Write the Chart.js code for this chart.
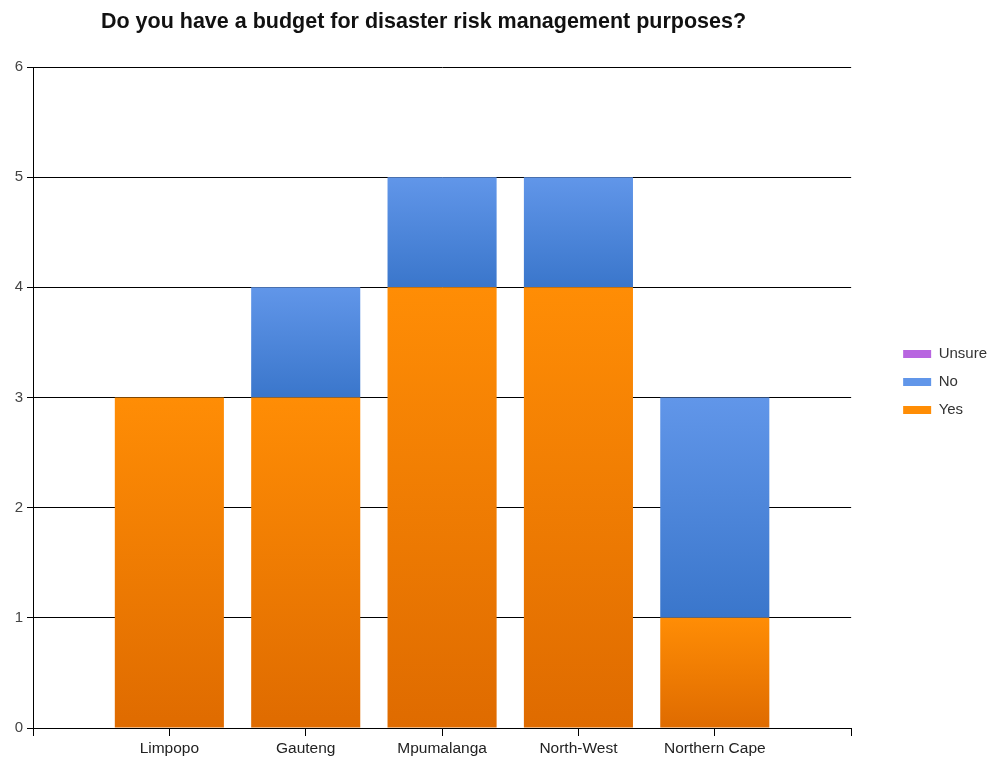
<!DOCTYPE html>
<html lang="en">
<head>
    <meta charset="UTF-8">
    <title>Disaster Risk Budget</title>
    <script src="https://cdn.jsdelivr.net/npm/chart.js"></script>
</head>
<style>
    body {
        margin: 0;
        background: #ffffff;
    }
    .chart-box {
        position: relative;
        width: 989px;
        height: 760px;
    }
</style>

<body>
    <div class="chart-box">
        <canvas id="budgetChart"></canvas>
    </div>
    <script>
        // Survey answers per province
        const provinces = ['Limpopo', 'Gauteng', 'Mpumalanga', 'North-West', 'Northern Cape'];
        const yesCounts = [3, 3, 4, 4, 1];
        const noCounts = [0, 1, 1, 1, 2];
        const unsureCounts = [0, 0, 0, 0, 0];
        const yTicks = [0, 1, 2, 3, 4, 5, 6];
        const chartTitle = 'Do you have a budget for disaster risk management purposes?';

        // empty slot on each side so the bars sit between the end ticks
        const labels = [''].concat(provinces, ['']);
        const pad = arr => [null].concat(arr, [null]);

        const series = [
            { label: 'Yes', data: yesCounts, top: '#ff8d05', bottom: '#df6b00' },
            { label: 'No', data: noCounts, top: '#6196e9', bottom: '#3a76cb' },
            { label: 'Unsure', data: unsureCounts, top: '#b865e0', bottom: '#8a3cc0' }
        ];

        const fontFamily = '"Liberation Sans", Arial, sans-serif';

        // each stacked segment gets its own top-to-bottom shade
        function segmentFill(s, idx) {
            return function (ctx) {
                const chart = ctx.chart;
                if (ctx.type !== 'data' || !chart.chartArea || !chart.scales.y) return s.top;
                const i = ctx.dataIndex - 1;
                if (i < 0 || i >= provinces.length) return s.top;
                let base = 0;
                for (let k = 0; k < idx; k++) base += series[k].data[i];
                const y = chart.scales.y;
                const y0 = y.getPixelForValue(base + s.data[i]);
                const y1 = y.getPixelForValue(base);
                if (!(y1 > y0)) return s.top;
                const g = chart.ctx.createLinearGradient(0, y0, 0, y1);
                g.addColorStop(0, s.top);
                g.addColorStop(1, s.bottom);
                return g;
            };
        }

        const titlePlugin = {
            id: 'plainTitle',
            afterDraw(chart) {
                const c = chart.ctx;
                c.save();
                c.font = 'bold 21.5px ' + fontFamily;
                c.fillStyle = '#111111';
                c.textAlign = 'center';
                c.textBaseline = 'alphabetic';
                c.fillText(chartTitle, 423.5, 27.5);
                c.restore();
            }
        };

        const ctx = document.getElementById('budgetChart').getContext('2d');
        const budgetChart = new Chart(ctx, {
            type: 'bar',
            data: {
                labels: labels,
                datasets: series.map((s, idx) => ({
                    label: s.label,
                    data: pad(s.data),
                    backgroundColor: segmentFill(s, idx),
                    borderWidth: 0,
                    barPercentage: 0.8,
                    categoryPercentage: 1.0
                }))
            },
            options: {
                responsive: true,
                maintainAspectRatio: false,
                animation: false,
                layout: { padding: { top: 4, right: -8, bottom: 0, left: 0 } },
                plugins: {
                    title: { display: false },
                    // empty spacer above the plot area only
                    subtitle: {
                        display: true,
                        text: '',
                        fullSize: false,
                        font: { size: 12, lineHeight: 1 },
                        padding: { top: 51, bottom: 0 }
                    },
                    tooltip: { enabled: true },
                    legend: {
                        position: 'right',
                        reverse: true,
                        labels: {
                            boxWidth: 28,
                            boxHeight: 8,
                            padding: 13,
                            color: '#333333',
                            font: { family: fontFamily, size: 15 }
                        }
                    }
                },
                scales: {
                    x: {
                        stacked: true,
                        offset: false,
                        grid: { offset: false, drawOnChartArea: false, drawTicks: true, tickLength: 8, color: '#000000' },
                        border: { display: true, color: '#000000' },
                        ticks: {
                            autoSkip: false,
                            maxRotation: 0,
                            padding: 3,
                            color: '#222222',
                            font: { family: fontFamily, size: 15.5 }
                        },
                        afterFit(scale) { scale.height = 32; }
                    },
                    y: {
                        stacked: true,
                        min: 0,
                        max: 6,
                        afterBuildTicks(scale) { scale.ticks = yTicks.map(v => ({ value: v })); },
                        grid: { color: '#000000', tickLength: 6 },
                        border: { display: true, color: '#000000' },
                        ticks: {
                            padding: 4,
                            color: '#444444',
                            font: { family: fontFamily, size: 15 }
                        },
                        afterFit(scale) { scale.width = 33; }
                    },
                    // blank spacer between plot and legend
                    gap: {
                        position: 'right',
                        display: true,
                        grid: { display: false },
                        border: { display: false },
                        ticks: { display: false },
                        afterFit(scale) { scale.width = 39; }
                    }
                }
            },
            plugins: [titlePlugin]
        });
    </script>
</body>
</html>
